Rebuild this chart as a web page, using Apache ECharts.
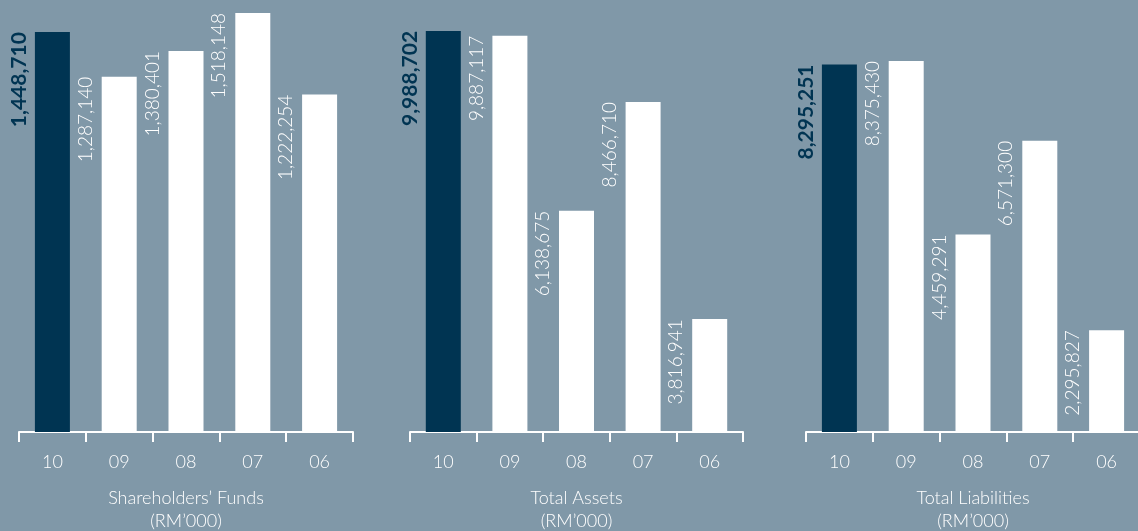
<!DOCTYPE html>
<html>
<head>
<meta charset="utf-8">
<title>financial highlights</title>
<script src="https://cdn.jsdelivr.net/npm/echarts@6/dist/echarts.min.js"></script>
<style type="text/css">
    body { margin: 0; padding: 0; background: #8098a8; }
    #main { width: 1138px; height: 531px; }
</style>
</head>
<body>
<div id="main"></div>
<script type="text/javascript">
// years shown on each panel
var years = ['10', '09', '08', '07', '06'];

// RM'000 values printed on the bars
var shareholdersFunds = [1448710, 1287140, 1380401, 1518148, 1222254];
var totalAssets = [9988702, 9887117, 6138675, 8466710, 3816941];
var totalLiabilities = [8295251, 8375430, 4459291, 6571300, 2295827];

var panelNames = ['Shareholders\u2019 Funds', 'Total Assets', 'Total Liabilities'];

var NAVY = '#003452';
var FONT = 'Lato';

function fmt(v) {
    return String(v).replace(/\B(?=(\d{3})+(?!\d))/g, ',');
}

function barData(values) {
    return values.map(function (v, i) {
        var first = i === 0;
        return {
            value: v,
            itemStyle: { color: first ? NAVY : '#ffffff' },
            label: {
                color: first ? NAVY : '#ffffff',
                fontWeight: first ? 'bold' : 300,
                fontSize: first ? 21 : 19
            }
        };
    });
}

var panels = [
    { left: 19, width: 334, min: 0, max: 1565000, values: shareholdersFunds },
    { left: 410, width: 333, min: 1400000, max: 10650000, values: totalAssets },
    { left: 806, width: 334, min: 0, max: 9750000, values: totalLiabilities }
];

var grids = [], xAxes = [], yAxes = [], series = [];
panels.forEach(function (p, k) {
    grids.push({ left: p.left, width: p.width, top: 0, bottom: 99, outerBoundsMode: 'none', containLabel: false });
    xAxes.push({
        type: 'category',
        gridIndex: k,
        data: years,
        axisLine: { lineStyle: { color: '#ffffff', width: 2 } },
        axisTick: { show: true, length: 10, lineStyle: { color: '#ffffff', width: 2 } },
        axisLabel: { color: '#ffffff', fontSize: 18, fontWeight: 300, fontFamily: FONT, margin: 21 },
        name: panelNames[k] + '\n(RM\u2019000)',
        nameLocation: 'middle',
        nameGap: 55,
        nameTextStyle: { color: '#ffffff', fontSize: 18, fontWeight: 300, fontFamily: FONT, lineHeight: 23 }
    });
    yAxes.push({
        type: 'value',
        gridIndex: k,
        min: p.min,
        max: p.max,
        show: false,
        splitLine: { show: false }
    });
    series.push({
        type: 'bar',
        xAxisIndex: k,
        yAxisIndex: k,
        barWidth: 35,
        data: barData(p.values),
        label: {
            show: true,
            position: [-16, 0],
            rotate: 90,
            align: 'right',
            verticalAlign: 'middle',
            fontFamily: FONT,
            formatter: function (params) { return fmt(params.value); }
        }
    });
});

var chart = echarts.init(document.getElementById('main'));
chart.setOption({
    backgroundColor: '#8098a8',
    animation: false,
    grid: grids,
    xAxis: xAxes,
    yAxis: yAxes,
    series: series
});
</script>
</body>
</html>
